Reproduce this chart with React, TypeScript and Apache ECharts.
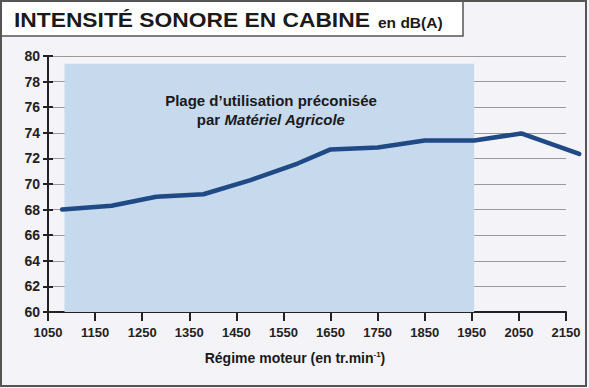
import React, { useEffect, useRef } from "react";
import * as echarts from "echarts";

const rpm = [1080, 1185, 1280, 1380, 1480, 1580, 1650, 1750, 1850, 1955, 2055, 2178];
const dbA = [68.0, 68.3, 69.0, 69.2, 70.3, 71.6, 72.7, 72.85, 73.4, 73.4, 73.95, 72.35];
const zoneRange = [1085, 1955];
const zoneTop = 79.4;
const xTicks = [1050, 1150, 1250, 1350, 1450, 1550, 1650, 1750, 1850, 1950, 2050, 2150];
const lineExtentMax = 2180;
const title = "INTENSITÉ SONORE EN CABINE";
const unit = "en dB(A)";
const xName = "Régime moteur (en tr.min";
const noteLine1 = "Plage d’utilisation préconisée";
const noteLine2a = "par ";
const noteLine2b = "Matériel Agricole";

const FONT = "'Liberation Sans', Arial, Helvetica, sans-serif";

export default function App() {
  const ref = useRef<HTMLDivElement>(null);
  useEffect(() => {
    if (!ref.current) return;
    const chart = echarts.init(ref.current, null, { renderer: "svg" });
    const data = rpm.map((x, i) => [x, dbA[i]]);
    const xMin = xTicks[0];
    const xMax = xTicks[xTicks.length - 1];
    const left = 48;
    const right = 23;
    const plotW = 589 - left - right;
    const pxPerUnit = plotW / (xMax - xMin);
    const right2 = 589 - (left + (lineExtentMax - xMin) * pxPerUnit);
    chart.setOption({
      animation: false,
      backgroundColor: "#f4f3f7",
      textStyle: { fontFamily: FONT },
      grid: [
        { left, right, top: 56, bottom: 76, containLabel: false },
        { left, right: right2, top: 56, bottom: 76, containLabel: false },
      ],
      xAxis: [
        {
          type: "value",
          gridIndex: 0,
          min: xMin,
          max: xMax,
          interval: 100,
          axisLine: { show: true, lineStyle: { color: "#222", width: 2 } },
          axisTick: { show: true, length: 9, lineStyle: { color: "#222", width: 2 } },
          axisLabel: {
            color: "#222",
            fontSize: 13,
            fontWeight: "bold",
            margin: 14,
            fontFamily: FONT,
            formatter: (v: number) => String(v),
          },
          splitLine: { show: false },
        },
        {
          type: "value",
          gridIndex: 1,
          min: xMin,
          max: lineExtentMax,
          show: false,
        },
      ],
      yAxis: [
        {
          type: "value",
          gridIndex: 0,
          min: 60,
          max: 80,
          interval: 2,
          axisLine: { show: true, lineStyle: { color: "#222", width: 2 } },
          axisTick: { show: true, length: 5, lineStyle: { color: "#222", width: 2 } },
          axisLabel: { color: "#222", fontSize: 14, fontWeight: "bold", margin: 8, fontFamily: FONT },
          splitLine: { show: true, lineStyle: { color: "#9a9a9a", width: 1.2 } },
        },
        {
          type: "value",
          gridIndex: 0,
          min: 60,
          max: 80,
          interval: 2,
          position: "left",
          axisLine: { show: false },
          axisTick: { show: true, inside: true, length: 5, lineStyle: { color: "#222", width: 2 } },
          axisLabel: { show: false },
          splitLine: { show: false },
        },
        {
          type: "value",
          gridIndex: 1,
          min: 60,
          max: 80,
          show: false,
        },
      ],
      series: [
        {
          type: "line",
          xAxisIndex: 0,
          yAxisIndex: 0,
          data: [],
          symbol: "none",
          markArea: {
            silent: true,
            itemStyle: { color: "#c6d9ed" },
            data: [[{ xAxis: zoneRange[0], yAxis: 60 }, { xAxis: zoneRange[1], yAxis: zoneTop }]],
          },
        },
        {
          type: "line",
          xAxisIndex: 1,
          yAxisIndex: 2,
          data,
          symbol: "none",
          z: 10,
          lineStyle: { color: "#1f4a85", width: 4.5, cap: "round", join: "round" },
        },
      ],
      graphic: [
        {
          type: "rect",
          z: 100,
          shape: { x: 1, y: 1, width: 585, height: 385 },
          style: { fill: "none", stroke: "#555", lineWidth: 2 },
          silent: true,
        },
        {
          type: "rect",
          z: 99,
          shape: { x: 1, y: 1, width: 462, height: 35 },
          style: { fill: "#ffffff", stroke: "#555", lineWidth: 1.5 },
          silent: true,
        },
        {
          type: "text",
          z: 101,
          x: 14,
          y: 20.5,
          scaleX: 1.14,
          style: {
            text: title,
            font: `bold 20px ${FONT}`,
            fill: "#1a1a1a",
            textAlign: "left",
            textVerticalAlign: "middle",
          },
        },
        {
          type: "text",
          z: 101,
          x: 378,
          y: 22,
          style: {
            text: unit,
            font: `bold 15.5px ${FONT}`,
            fill: "#1a1a1a",
            textAlign: "left",
            textVerticalAlign: "middle",
          },
        },
        {
          type: "text",
          z: 10,
          x: 271,
          y: 100,
          style: {
            text: noteLine1,
            font: `bold 15px ${FONT}`,
            fill: "#1a1a1a",
            textAlign: "center",
            textVerticalAlign: "middle",
          },
        },
        {
          type: "text",
          z: 10,
          x: 271,
          y: 119,
          style: {
            text: `{a|${noteLine2a}}{b|${noteLine2b}}`,
            textAlign: "center",
            textVerticalAlign: "middle",
            rich: {
              a: { font: `bold 15px ${FONT}`, fill: "#1a1a1a" },
              b: { font: `italic bold 15px ${FONT}`, fill: "#1a1a1a" },
            },
          },
        },
        {
          type: "text",
          z: 10,
          x: 295,
          y: 358,
          style: {
            text: `{a|${xName}}{s|-1}{a|)}`,
            textAlign: "center",
            textVerticalAlign: "middle",
            rich: {
              a: { font: `bold 14px ${FONT}`, fill: "#1a1a1a" },
              s: { font: `bold 8px ${FONT}`, fill: "#1a1a1a", padding: [0, 0, 8, 0] },
            },
          },
        },
      ],
    });
    return () => chart.dispose();
  }, []);
  return <div ref={ref} style={{ position: "fixed", left: 0, top: 0, width: 589, height: 388 }} />;
}
